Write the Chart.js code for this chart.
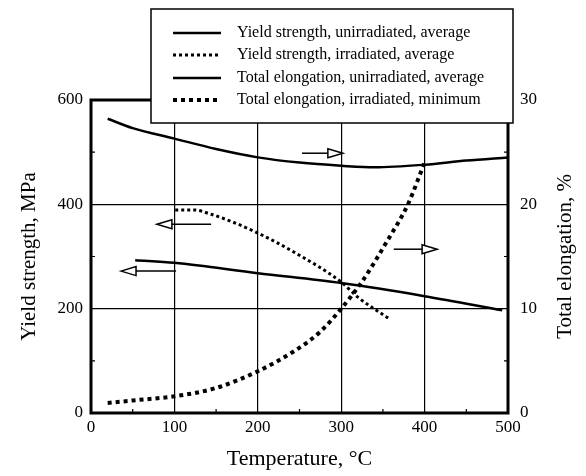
<!DOCTYPE html>
<html>
<head>
<meta charset="utf-8">
<script src="https://cdn.jsdelivr.net/npm/chart.js@4/dist/chart.umd.min.js"></script>
<style>
  html, body { margin: 0; padding: 0; background: #fff; }
  #wrap { position: relative; width: 586px; height: 476px; }
</style>
</head>
<body>
<div id="wrap"><canvas id="chart" width="586" height="476"></canvas></div>
<script>
var yieldUnirrT = [53, 100, 200, 300, 400, 493];
var yieldUnirrMPa = [293, 288, 268, 249, 224, 197];

var yieldIrrT = [101, 125, 140, 170, 200, 245, 300, 320, 358];
var yieldIrrMPa = [389, 389, 383, 366, 345, 307, 251, 222, 180];

var elongUnirrT = [20, 50, 100, 150, 200, 250, 300, 340, 400, 450, 500];
var elongUnirrPct = [28.2, 27.3, 26.3, 25.3, 24.5, 24.0, 23.7, 23.55, 23.8, 24.2, 24.5];

var elongIrrT = [20, 50, 100, 150, 200, 245, 275, 300, 325, 356, 380, 400];
var elongIrrPct = [0.96, 1.2, 1.6, 2.4, 4.0, 6.0, 7.8, 10.0, 12.6, 16.6, 20.0, 24.0];

var seriesLabels = [
  'Yield strength, unirradiated, average',
  'Yield strength, irradiated, average',
  'Total elongation, unirradiated, average',
  'Total elongation, irradiated, minimum'
];

// arrows pointing to the axis each curve belongs to: [fromT, toT, value, axis]
var arrows = [
  [253, 302, 24.9, 'y1'],
  [144, 79, 362, 'y'],
  [102, 36, 272, 'y'],
  [363, 415, 15.7, 'y1']
];

var xTicks = [0, 100, 200, 300, 400, 500];
var xMinor = [50, 150, 250, 350, 450];
var yMinor = [100, 300, 500];
var rightTitle = 'Total elongation, %';

var SERIF = '"Liberation Serif", "Times New Roman", serif';

function pts(xs, ys) {
  return xs.map(function (x, i) { return { x: x, y: ys[i] }; });
}

function line(label, data, axis, width, dash) {
  return {
    label: label,
    data: data,
    yAxisID: axis,
    borderColor: '#000',
    backgroundColor: '#000',
    borderWidth: width,
    borderDash: dash,
    borderCapStyle: 'butt',
    pointRadius: 0,
    cubicInterpolationMode: 'monotone',
    fill: false
  };
}

// ——— frame, minor ticks, arrows, right title and the boxed legend ———
var decorPlugin = {
  id: 'decor',
  afterDatasetsDraw: function (chart) {
    var ctx = chart.ctx;
    var a = chart.chartArea;
    var xs = chart.scales.x, ys = chart.scales.y;
    ctx.save();

    // minor ticks, inward
    ctx.strokeStyle = '#000';
    ctx.lineWidth = 1.2;
    ctx.beginPath();
    xMinor.forEach(function (v) {
      var px = xs.getPixelForValue(v);
      ctx.moveTo(px, a.bottom); ctx.lineTo(px, a.bottom - 4);
    });
    yMinor.forEach(function (v) {
      var py = ys.getPixelForValue(v);
      ctx.moveTo(a.left, py); ctx.lineTo(a.left + 4, py);
      ctx.moveTo(a.right, py); ctx.lineTo(a.right - 4, py);
    });
    ctx.stroke();

    // frame
    ctx.lineWidth = 3;
    ctx.strokeRect(a.left, a.top, a.right - a.left, a.bottom - a.top);

    // arrows
    arrows.forEach(function (ar) {
      var x0 = xs.getPixelForValue(ar[0]);
      var x1 = xs.getPixelForValue(ar[1]);
      var y = chart.scales[ar[3]].getPixelForValue(ar[2]);
      var dir = x1 > x0 ? 1 : -1;
      var headLen = 15, half = 4.5;
      ctx.lineWidth = 1.5;
      ctx.beginPath();
      ctx.moveTo(x0, y);
      ctx.lineTo(x1 - dir * headLen, y);
      ctx.stroke();
      ctx.beginPath();
      ctx.moveTo(x1, y);
      ctx.lineTo(x1 - dir * headLen, y - half);
      ctx.lineTo(x1 - dir * headLen, y + half);
      ctx.closePath();
      ctx.fillStyle = '#fff';
      ctx.fill();
      ctx.stroke();
    });

    // right axis title, reading bottom to top like the left one
    ctx.save();
    ctx.translate(565, (a.top + a.bottom) / 2);
    ctx.rotate(-Math.PI / 2);
    ctx.font = '21px ' + SERIF;
    ctx.fillStyle = '#000';
    ctx.textAlign = 'center';
    ctx.textBaseline = 'middle';
    ctx.fillText(rightTitle, 0, 0);
    ctx.restore();

    // legend box
    var bx = 151, by = 9, bw = 362, bh = 114;
    ctx.fillStyle = '#fff';
    ctx.fillRect(bx, by, bw, bh);
    ctx.lineWidth = 1.5;
    ctx.strokeStyle = '#000';
    ctx.strokeRect(bx, by, bw, bh);

    var rowY = [33, 55, 78, 100];
    ctx.font = '16px ' + SERIF;
    ctx.textBaseline = 'middle';
    ctx.textAlign = 'left';
    chart.data.datasets.forEach(function (ds, i) {
      var y = rowY[i];
      ctx.beginPath();
      ctx.lineWidth = ds.borderWidth;
      ctx.setLineDash(ds.borderDash || []);
      ctx.moveTo(173, y);
      ctx.lineTo(221, y);
      ctx.stroke();
      ctx.setLineDash([]);
      ctx.fillStyle = '#000';
      ctx.fillText(ds.label, 237, y);
    });
    ctx.restore();
  }
};

new Chart(document.getElementById('chart').getContext('2d'), {
  type: 'line',
  data: {
    datasets: [
      line(seriesLabels[0], pts(yieldUnirrT, yieldUnirrMPa), 'y', 2.5, []),
      line(seriesLabels[1], pts(yieldIrrT, yieldIrrMPa), 'y', 3, [3, 3]),
      line(seriesLabels[2], pts(elongUnirrT, elongUnirrPct), 'y1', 2.5, []),
      line(seriesLabels[3], pts(elongIrrT, elongIrrPct), 'y1', 4, [4, 4])
    ]
  },
  options: {
    responsive: false,
    animation: false,
    layout: { padding: { top: 100, left: 0, right: 0, bottom: 0 } },
    plugins: { legend: { display: false }, tooltip: { enabled: false } },
    scales: {
      x: {
        type: 'linear',
        min: 0, max: 500,
        afterBuildTicks: function (s) { s.ticks = xTicks.map(function (v) { return { value: v }; }); },
        afterFit: function (s) { s.height = 63; },
        ticks: { color: '#000', padding: 4, font: { family: SERIF, size: 17 } },
        grid: { color: '#000', lineWidth: 1.2, drawTicks: false },
        border: { display: false },
        title: { display: true, text: 'Temperature, °C', color: '#000', padding: { top: 0, bottom: 4 }, font: { family: SERIF, size: 22 } }
      },
      y: {
        position: 'left',
        min: 0, max: 600,
        ticks: { stepSize: 200, color: '#000', padding: 8, font: { family: SERIF, size: 17 } },
        afterFit: function (s) { s.width = 91; },
        grid: { color: '#000', lineWidth: 1.2, drawTicks: false },
        border: { display: false },
        title: { display: true, text: 'Yield strength, MPa', color: '#000', padding: { top: 17, bottom: 0 }, font: { family: SERIF, size: 21 } }
      },
      y1: {
        position: 'right',
        min: 0, max: 30,
        ticks: { stepSize: 10, color: '#000', padding: 12, font: { family: SERIF, size: 17 } },
        afterFit: function (s) { s.width = 78; },
        grid: { display: false, drawTicks: false },
        border: { display: false },
        title: { display: false }
      }
    }
  },
  plugins: [decorPlugin]
});
</script>
</body>
</html>
